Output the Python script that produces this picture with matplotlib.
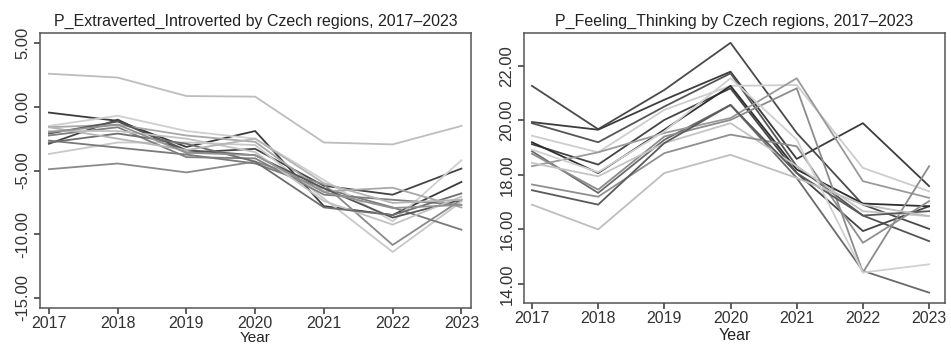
import matplotlib.pyplot as plt
import numpy as np

plt.rcParams['font.family'] = ['Liberation Sans', 'DejaVu Sans']

years = [2017, 2018, 2019, 2020, 2021, 2022, 2023]

# ====== P_Extraverted_Introverted ======
ei_series = [
    [2.6, 2.3, 0.85, 0.8, -2.8, -2.95, -1.5],
    [-0.45, -1.1, -3.15, -1.9, -7.8, -8.5, -5.9],
    [-2.9, -1.0, -3.6, -3.3, -6.2, -6.9, -4.85],
    [-4.9, -4.45, -5.15, -4.3, -6.1, -10.85, -7.3],
    [-3.7, -2.8, -2.8, -3.0, -7.2, -11.4, -7.45],
    [-2.65, -3.2, -3.75, -4.45, -6.4, -7.9, -9.65],
    [-1.5, -0.7, -1.9, -2.5, -5.75, -9.0, -4.2],
    [-1.6, -1.4, -2.25, -2.75, -6.65, -6.35, -7.9],
    [-2.1, -1.15, -3.4, -3.8, -6.4, -8.7, -7.3],
    [-2.25, -1.6, -3.95, -4.05, -6.9, -7.3, -7.7],
    [-1.9, -1.9, -2.5, -3.55, -7.4, -9.25, -7.05],
    [-2.8, -2.1, -2.9, -4.3, -7.9, -8.5, -6.8],
    [-1.6, -2.5, -3.4, -2.5, -6.0, -7.55, -7.3],
    [-2.0, -1.4, -3.6, -3.8, -6.7, -7.95, -7.7],
]
ei_grays = ["#bdbdbd", "#3a3a3a", "#444444", "#8a8a8a", "#c8c8c8", "#7a7a7a",
            "#cfcfcf", "#a8a8a8", "#555555", "#7f7f7f", "#c2c2c2", "#6e6e6e",
            "#b5b5b5", "#929292"]

# ====== P_Feeling_Thinking ======
ft_series = [
    [21.27, 19.68, 21.12, 22.85, 19.54, 16.91, 16.02],
    [19.94, 19.66, 20.76, 21.79, 18.59, 19.9, 17.59],
    [19.9, 19.2, 20.51, 21.73, 18.32, 16.51, 15.57],
    [19.44, 18.83, 20.39, 21.27, 21.3, 18.26, 17.4],
    [19.13, 18.38, 20.02, 21.18, 18.07, 15.94, 16.85],
    [19.2, 18.07, 19.66, 21.27, 18.2, 16.95, 16.85],
    [18.87, 17.34, 19.29, 20.57, 17.89, 14.48, 13.68],
    [18.32, 18.83, 19.54, 20.09, 21.55, 17.77, 17.16],
    [18.78, 17.46, 19.41, 20.02, 21.18, 14.42, 18.32],
    [18.44, 17.95, 19.17, 19.9, 18.32, 16.67, 16.49],
    [17.65, 17.2, 18.8, 19.48, 19.05, 15.51, 17.04],
    [17.44, 16.91, 19.17, 20.57, 18.07, 16.51, 16.67],
    [16.91, 16.0, 18.07, 18.74, 17.89, 16.91, 16.49],
    [18.93, 18.1, 19.6, 21.55, 19.3, 14.42, 14.72],
]
ft_grays = ["#4a4a4a", "#3c3c3c", "#555555", "#cdcdcd", "#444444", "#2e2e2e",
            "#6a6a6a", "#9a9a9a", "#8c8c8c", "#c4c4c4", "#8f8f8f", "#5a5a5a",
            "#bebebe", "#d0d0d0"]

W, H = 951, 347
fig = plt.figure(figsize=(W / 100, H / 100), dpi=100)

ax1 = fig.add_axes([40 / W, (H - 308) / H, 431 / W, 275 / H])
ax2 = fig.add_axes([524 / W, (H - 303) / H, 421 / W, 270 / H])


def style(ax, title, yticks):
    ax.set_xticks(years)
    ax.set_yticks(yticks)
    ax.set_yticklabels([f"{t:.2f}" for t in yticks], rotation=90, va="center")
    ax.tick_params(axis="both", direction="out", length=4, width=1.1,
                   colors="#333333", labelsize=12)
    ax.tick_params(axis="x", pad=2, labelsize=11.5)
    ax.tick_params(axis="y", pad=3)
    for s in ax.spines.values():
        s.set_color("#555555")
        s.set_linewidth(1.1)
    ax.set_title(title, fontsize=11.5, color="#222222", pad=5)


for vals, c in zip(ei_series, ei_grays):
    ax1.plot(years, vals, color=c, lw=1.3)
ax1.set_xlim(2016.87, 2023.14)
ax1.set_ylim(-15.8, 5.8)
style(ax1, "P_Extraverted_Introverted by Czech regions, 2017\u20132023",
      [5, 0, -5, -10, -15])
ax1.set_xlabel("Year", fontsize=11, color="#222222", labelpad=0)

for vals, c in zip(ft_series, ft_grays):
    ax2.plot(years, vals, color=c, lw=1.3)
ax2.set_xlim(2016.88, 2023.24)
ax2.set_ylim(13.3, 23.21)
style(ax2, "P_Feeling_Thinking by Czech regions, 2017\u20132023",
      [14, 16, 18, 20, 22])
ax2.set_xlabel("Year", fontsize=11.5, color="#222222", labelpad=1)

plt.savefig("out.png", dpi=100)
plt.close()
